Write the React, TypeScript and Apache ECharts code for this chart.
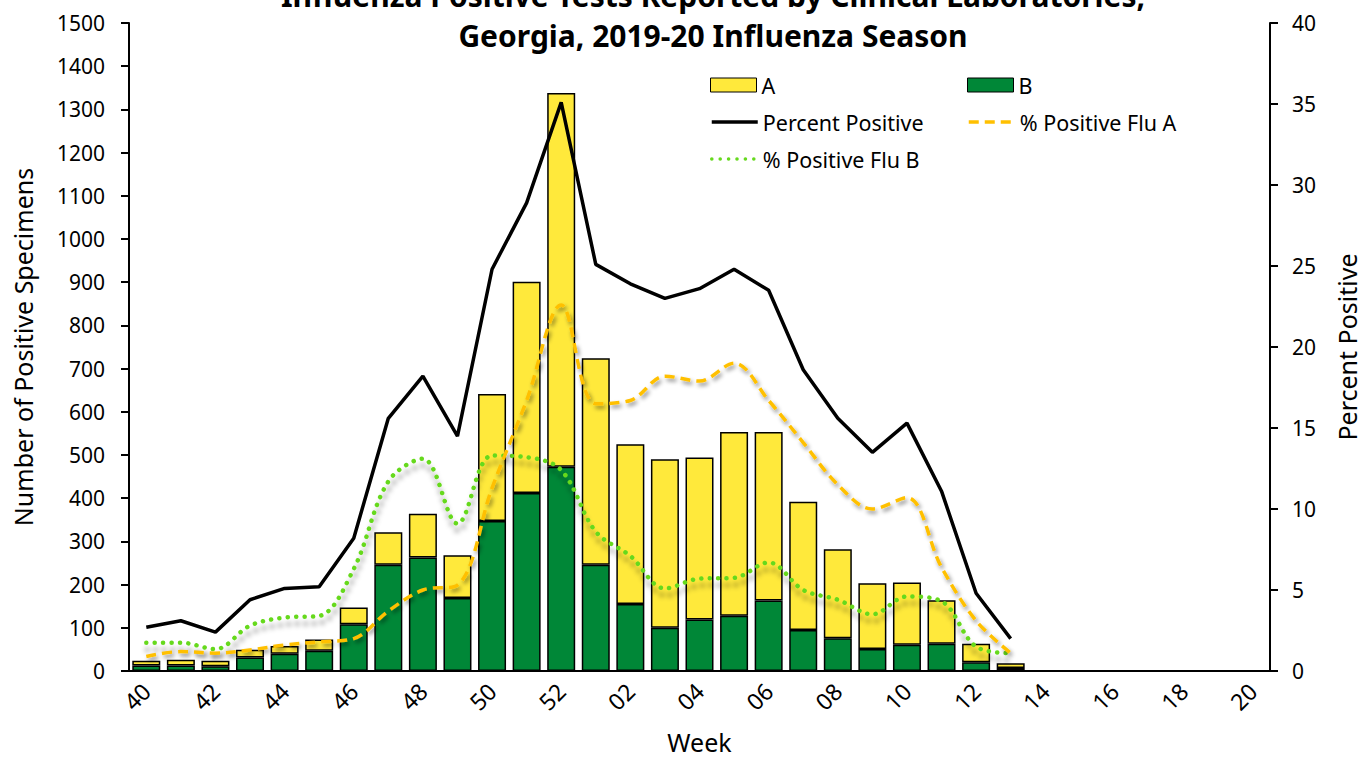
import React, { useEffect, useRef } from "react";
import * as echarts from "echarts";

// Surveillance weeks, 2019 week 40 through 2020 week 20
const weeks: string[] = [
  "40", "41", "42", "43", "44", "45", "46", "47", "48", "49", "50", "51", "52",
  "01", "02", "03", "04", "05", "06", "07", "08", "09", "10", "11", "12", "13",
  "14", "15", "16", "17", "18", "19", "20",
];

// Positive specimens by influenza type
const fluB: (number | null)[] = [
  13, 13, 11, 31, 40, 47, 108, 246, 263, 169, 347, 412, 473,
  246, 155, 100, 119, 128, 163, 95, 76, 51, 61, 63, 20, 7,
  null, null, null, null, null, null, null,
];
const fluA: (number | null)[] = [
  11, 13, 13, 18, 18, 26, 39, 75, 101, 99, 294, 489, 865,
  478, 370, 390, 375, 425, 390, 297, 206, 152, 144, 101, 43, 11,
  null, null, null, null, null, null, null,
];

// Percent of specimens testing positive
const pctPositive: (number | null)[] = [
  2.7, 3.1, 2.4, 4.4, 5.1, 5.2, 8.2, 15.6, 18.2, 14.5, 24.8, 28.9, 35.1,
  25.1, 23.9, 23.0, 23.6, 24.8, 23.5, 18.6, 15.6, 13.5, 15.3, 11.1, 4.8, 2.0,
  null, null, null, null, null, null, null,
];
const pctFluA: (number | null)[] = [
  0.9, 1.2, 1.1, 1.3, 1.6, 1.8, 2.0, 3.7, 5.0, 5.3, 11.3, 16.7, 22.6,
  16.5, 16.7, 18.2, 17.9, 19.0, 16.7, 14.1, 11.5, 10.0, 10.7, 6.4, 3.1, 1.1,
  null, null, null, null, null, null, null,
];
const pctFluB: (number | null)[] = [
  1.75, 1.75, 1.35, 2.8, 3.3, 3.4, 6.3, 11.7, 13.1, 9.1, 13.3, 13.2, 12.4,
  8.6, 7.1, 5.1, 5.7, 5.75, 6.7, 5.0, 4.4, 3.5, 4.6, 4.3, 1.5, 1.1,
  null, null, null, null, null, null, null,
];

const titleLines: string[] = [
  "Influenza Positive Tests Reported by Clinical Laboratories,",
  "Georgia, 2019-20 Influenza Season",
];

const FONT = "'Noto Sans', 'Open Sans', sans-serif";
const YELLOW = "#FFE93B";
const GREEN = "#008737";
const ORANGE = "#FFC000";
const LIME = "#66D91E";

const legendBase = {
  orient: "horizontal" as const,
  padding: 0,
  itemWidth: 46,
  itemHeight: 14,
  itemGap: 6,
  selectedMode: false,
  textStyle: { fontFamily: FONT, fontSize: 21.5, color: "#000" },
};
const boxLegend = {
  ...legendBase,
  icon: "rect",
  itemStyle: { borderColor: "#000", borderWidth: 1 },
};
const lineLegend = {
  ...legendBase,
  itemStyle: { opacity: 0 },
  lineStyle: { width: 3.5 },
};

const plain = (v: number) => String(v);

export default function App() {
  const ref = useRef<HTMLDivElement>(null);

  useEffect(() => {
    if (!ref.current) return;
    const chart = echarts.init(ref.current, null, { renderer: "svg" });

    chart.setOption({
      animation: false,
      backgroundColor: "#fff",
      graphic: titleLines.map((line, i) => ({
        type: "text",
        x: 713,
        y: -5 + i * 40,
        style: {
          text: line,
          fontFamily: FONT,
          fontSize: 30,
          fontWeight: "bold",
          fill: "#000",
          align: "center",
          verticalAlign: "middle",
        },
      })),
      legend: [
        { ...boxLegend, data: ["A"], left: 710, top: 74 },
        { ...boxLegend, data: ["B"], left: 967, top: 74 },
        { ...lineLegend, data: ["Percent Positive"], left: 710, top: 111 },
        { ...lineLegend, data: ["% Positive Flu A"], left: 967, top: 111 },
        { ...lineLegend, data: ["% Positive Flu B"], left: 710, top: 148 },
      ],
      grid: { left: 129, right: 92, top: 23, bottom: 81, containLabel: false },
      xAxis: {
        type: "category",
        data: weeks,
        boundaryGap: true,
        name: "Week",
        nameLocation: "middle",
        nameGap: 58,
        nameTextStyle: { fontFamily: FONT, fontSize: 25, color: "#000" },
        axisLine: { lineStyle: { color: "#000", width: 2 } },
        axisTick: { interval: 0, length: 8, lineStyle: { color: "#000", width: 2 } },
        axisLabel: {
          interval: 1,
          rotate: 45,
          margin: 16,
          fontFamily: FONT,
          fontSize: 23,
          color: "#000",
        },
      },
      yAxis: [
        {
          type: "value",
          min: 0,
          max: 1500,
          interval: 100,
          name: "Number of Positive Specimens",
          nameLocation: "middle",
          nameRotate: 90,
          nameGap: 94,
          nameTextStyle: { fontFamily: FONT, fontSize: 25, color: "#000" },
          axisLine: { show: true, lineStyle: { color: "#000", width: 2 } },
          axisTick: { show: true, length: 8, lineStyle: { color: "#000", width: 2 } },
          axisLabel: { margin: 24, fontFamily: FONT, fontSize: 21, color: "#000", formatter: plain },
          splitLine: { show: false },
        },
        {
          type: "value",
          min: 0,
          max: 40,
          interval: 5,
          position: "right",
          name: "Percent Positive",
          nameLocation: "middle",
          nameRotate: 90,
          nameGap: 64,
          nameTextStyle: { fontFamily: FONT, fontSize: 25, color: "#000" },
          axisLine: { show: true, lineStyle: { color: "#000", width: 2 } },
          axisTick: { show: true, length: 8, lineStyle: { color: "#000", width: 2 } },
          axisLabel: { margin: 22, fontFamily: FONT, fontSize: 21, color: "#000", formatter: plain },
          splitLine: { show: false },
        },
      ],
      series: [
        {
          name: "B",
          type: "bar",
          stack: "specimens",
          data: fluB,
          barWidth: 28,
          itemStyle: { color: GREEN, borderColor: "#000", borderWidth: 1.5 },
        },
        {
          name: "A",
          type: "bar",
          stack: "specimens",
          data: fluA,
          barWidth: 28,
          itemStyle: { color: YELLOW, borderColor: "#000", borderWidth: 1.5 },
        },
        {
          name: "% Positive Flu B",
          type: "line",
          yAxisIndex: 1,
          data: pctFluB,
          smooth: 0.35,
          symbol: "none",
          itemStyle: { color: LIME },
          lineStyle: {
            color: LIME,
            width: 4.5,
            type: [0.1, 8.3],
            cap: "round",
            shadowColor: "rgba(0,0,0,0.4)",
            shadowBlur: 5,
            shadowOffsetX: 1,
            shadowOffsetY: 7,
          },
        },
        {
          name: "% Positive Flu A",
          type: "line",
          yAxisIndex: 1,
          data: pctFluA,
          smooth: 0.35,
          symbol: "none",
          itemStyle: { color: ORANGE },
          lineStyle: {
            color: ORANGE,
            width: 3.5,
            type: [10, 6],
            shadowColor: "rgba(0,0,0,0.45)",
            shadowBlur: 4,
            shadowOffsetX: 2,
            shadowOffsetY: 3,
          },
        },
        {
          name: "Percent Positive",
          type: "line",
          yAxisIndex: 1,
          data: pctPositive,
          symbol: "none",
          itemStyle: { color: "#000" },
          lineStyle: { color: "#000", width: 3.5 },
        },
      ],
    });

    return () => chart.dispose();
  }, []);

  return (
    <div
      ref={ref}
      style={{ position: "fixed", left: 0, top: 0, width: 1367, height: 759 }}
    />
  );
}
